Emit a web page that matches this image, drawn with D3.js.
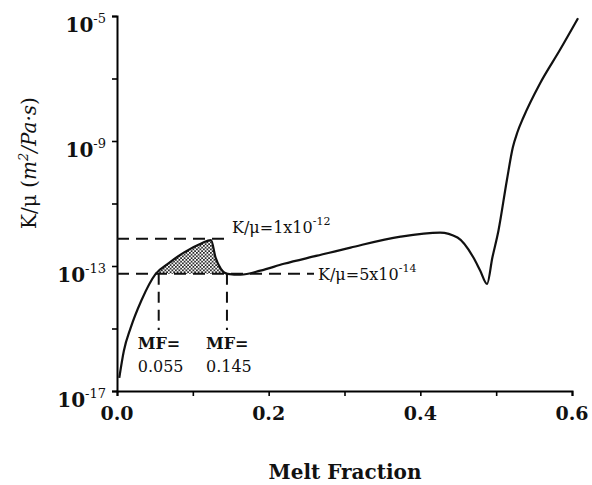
<!DOCTYPE html>
<html>
<head>
<meta charset="utf-8">
<script src="https://cdn.jsdelivr.net/npm/d3@7"></script>
<style>
  body { margin:0; background:#fff; }
  text { font-family: "DejaVu Serif", "Liberation Serif", serif; fill:#111; }
</style>
</head>
<body>
<div id="chart-area"></div>
<script>
// curve: melt fraction vs log10(K/mu)
const meltFraction = [0.003, 0.009, 0.018, 0.032, 0.051, 0.067, 0.088, 0.111, 0.124,
    0.130, 0.137, 0.146, 0.163, 0.189, 0.220, 0.264, 0.308, 0.374, 0.426, 0.449,
    0.470, 0.479, 0.488, 0.495, 0.503, 0.514, 0.522, 0.528, 0.536, 0.558, 0.584, 0.608];
const logKmu = [-16.58, -15.72, -14.98, -14.11, -13.25, -12.93, -12.57, -12.28, -12.17,
    -12.73, -13.09, -13.25, -13.28, -13.15, -12.93, -12.67, -12.41, -12.06, -11.93, -12.09,
    -12.73, -13.15, -13.57, -12.73, -11.87, -10.27, -9.20, -8.72, -8.24, -7.15, -6.09, -5.07];

const xTicks = [0, 0.1, 0.2, 0.3, 0.4, 0.5, 0.6];
const xTickLabels = ["0.0", "", "0.2", "", "0.4", "", "0.6"];
const yTicks = [1e-17, 1e-15, 1e-13, 1e-11, 1e-9, 1e-7, 1e-5];
const yTickLabels = ["-17", "", "-13", "", "-9", "", "-5"];

// threshold levels and melt fractions
const levels = [Math.pow(10, -12.13), Math.pow(10, -13.25)];
const levelLabels = [["K/\u03bc=1x10", "-12"], ["K/\u03bc=5x10", "-14"]];
const mfMarks = [0.055, 0.145];
const mfLabels = ["0.055", "0.145"];

const data = meltFraction.map((d, i) => ({ mf: d, k: Math.pow(10, logKmu[i]) }));

const W = 592, H = 485;
const svg = d3.select("#chart-area").append("svg")
    .attr("width", W).attr("height", H);

const x = d3.scaleLinear().domain([0, 0.6]).range([117, 572]);
const y = d3.scaleLog().domain([1e-17, 1e-5]).range([391, 16]);

// stipple pattern for the shaded region
const pat = svg.append("defs").append("pattern")
    .attr("id", "dots").attr("patternUnits", "userSpaceOnUse")
    .attr("width", 3.5).attr("height", 3.5);
pat.append("circle").attr("cx", 0.9).attr("cy", 0.9).attr("r", 0.95).attr("fill", "#111");
pat.append("circle").attr("cx", 2.6).attr("cy", 2.6).attr("r", 0.95).attr("fill", "#111");

// axes
svg.append("g")
    .attr("transform", "translate(" + x(0) + ",0)")
    .call(d3.axisLeft(y).tickValues(yTicks).tickSize(5).tickFormat(""));
svg.append("g")
    .attr("transform", "translate(0," + y(1e-17) + ")")
    .call(d3.axisBottom(x).tickValues(xTicks).tickSize(5).tickFormat(""));
svg.selectAll(".domain").attr("stroke-width", 2);
svg.selectAll(".tick line").attr("stroke-width", 1.6);

// y tick labels 10^n
yTicks.forEach(function(t, i) {
    if (!yTickLabels[i]) return;
    const tx = svg.append("text")
        .attr("x", x(0) - 11).attr("y", y(t) + 16)
        .attr("text-anchor", "end")
        .attr("font-size", "20px").attr("font-weight", "bold");
    tx.append("tspan").text("10");
    tx.append("tspan").attr("dy", -9).attr("font-size", "13px").attr("font-weight", "normal")
        .text(yTickLabels[i]);
});

// x tick labels
xTicks.forEach(function(t, i) {
    if (!xTickLabels[i]) return;
    svg.append("text")
        .attr("x", x(t)).attr("y", y(1e-17) + 29)
        .attr("text-anchor", "middle")
        .attr("font-size", "19px").attr("font-weight", "bold")
        .text(xTickLabels[i]);
});

// shaded region between the curve and the lower level
const inside = data.filter(d => d.mf > 0.051 && d.mf < 0.146);
const shade = [{ mf: 0.051, k: levels[1] }].concat(inside, [{ mf: 0.146, k: levels[1] }]);
svg.append("path")
    .datum(shade)
    .attr("fill", "url(#dots)")
    .attr("d", d3.area().x(d => x(d.mf)).y0(y(levels[1])).y1(d => y(d.k)));

// dashed reference lines
const dash = "12,7";
svg.append("line")
    .attr("x1", x(0)).attr("x2", 228)
    .attr("y1", y(levels[0])).attr("y2", y(levels[0]))
    .attr("stroke", "#111").attr("stroke-width", 2).attr("stroke-dasharray", dash);
svg.append("line")
    .attr("x1", x(0)).attr("x2", 314)
    .attr("y1", y(levels[1])).attr("y2", y(levels[1]))
    .attr("stroke", "#111").attr("stroke-width", 2).attr("stroke-dasharray", dash);
mfMarks.forEach(function(m) {
    svg.append("line")
        .attr("x1", x(m)).attr("x2", x(m))
        .attr("y1", y(levels[1])).attr("y2", 330)
        .attr("stroke", "#111").attr("stroke-width", 2).attr("stroke-dasharray", "11,7");
});

// main curve
svg.append("path")
    .datum(data)
    .attr("fill", "none").attr("stroke", "#111").attr("stroke-width", 2.2)
    .attr("d", d3.line().x(d => x(d.mf)).y(d => y(d.k)).curve(d3.curveMonotoneX));

// level labels
[[232, y(levels[0]) - 6], [318, y(levels[1]) + 6]].forEach(function(p, i) {
    const t = svg.append("text").attr("x", p[0]).attr("y", p[1])
        .attr("font-size", "16px");
    t.append("tspan").text(levelLabels[i][0]);
    t.append("tspan").attr("dy", -8).attr("font-size", "11px").text(levelLabels[i][1]);
});

// MF labels
mfMarks.forEach(function(m, i) {
    const lx = x(m) - 21;
    svg.append("text").attr("x", lx).attr("y", 349)
        .attr("font-size", "16px").attr("font-weight", "bold").text("MF=");
    svg.append("text").attr("x", lx).attr("y", 372)
        .attr("font-size", "16px").text(mfLabels[i]);
});

// axis titles
svg.append("text")
    .attr("x", 345).attr("y", 479)
    .attr("text-anchor", "middle")
    .attr("font-size", "20px").attr("font-weight", "bold")
    .text("Melt Fraction");

const yt = svg.append("text")
    .attr("transform", "translate(36,163) rotate(-90)")
    .attr("text-anchor", "middle")
    .attr("font-size", "20px");
yt.append("tspan").text("K/\u03bc (");
yt.append("tspan").attr("font-style", "italic").text("m");
yt.append("tspan").attr("font-style", "italic").attr("dy", -8).attr("font-size", "13px").text("2");
yt.append("tspan").attr("font-style", "italic").attr("dy", 8).text("/Pa\u00b7s");
yt.append("tspan").text(")");
</script>
</body>
</html>
